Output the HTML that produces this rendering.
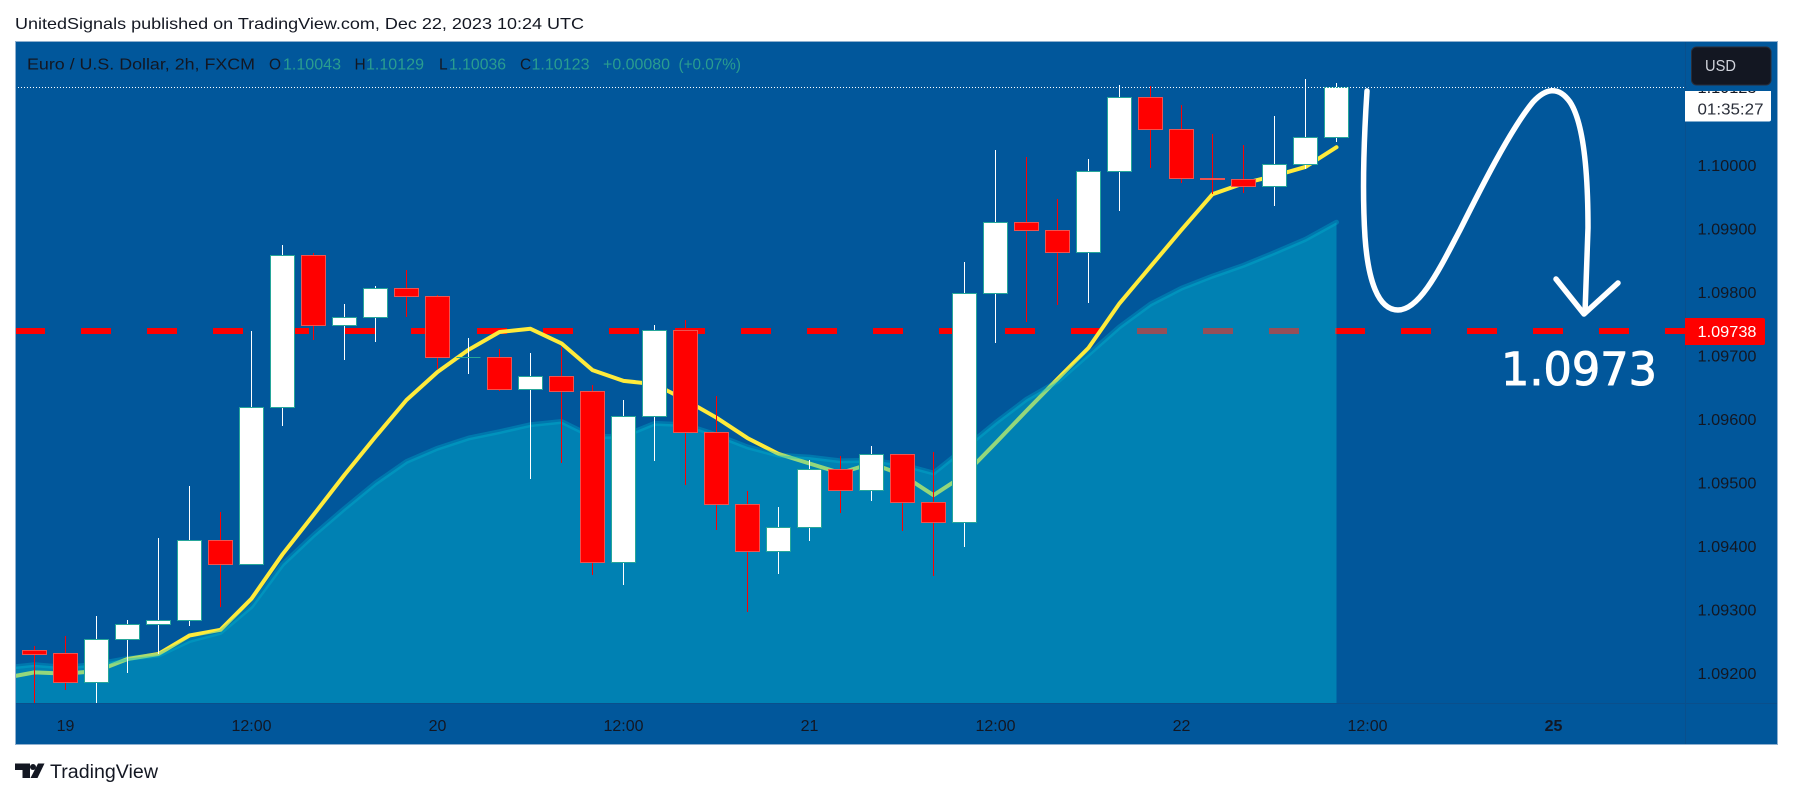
<!DOCTYPE html>
<html lang="en">
<head>
<meta charset="utf-8">
<title>EUR/USD 2h chart</title>
<style>
html,body{margin:0;padding:0;background:#fff;width:1793px;height:798px;overflow:hidden}
svg{display:block;font-family:"Liberation Sans",sans-serif}
</style>
</head>
<body>
<svg id="chart" xmlns="http://www.w3.org/2000/svg" width="1793" height="798" viewBox="0 0 1793 798">
  <defs>
    <clipPath id="plot-clip"><rect x="16" y="42" width="1669" height="661"/></clipPath>
    <clipPath id="last-label-clip"><rect x="1685" y="91" width="86" height="31"/></clipPath>
  </defs>
  <text x="15" y="29" font-size="16" fill="#131722" textLength="569" lengthAdjust="spacingAndGlyphs">UnitedSignals published on TradingView.com, Dec 22, 2023 10:24 UTC</text>
  <rect x="15.5" y="41.5" width="1762" height="703" fill="#01579b" stroke="#8fb0cf" stroke-width="1"/>
  <g id="plot" clip-path="url(#plot-clip)">
    <g id="target-layer"></g>
    <g id="fast-layer"></g>
    <g id="area-layer"></g>
    <g id="candle-layer"></g>
    <g id="last-layer"></g>
  </g>
  <line x1="1685.5" y1="42" x2="1685.5" y2="744" stroke="#0a4f8c" stroke-width="1"/>
  <line x1="16" y1="703.5" x2="1777" y2="703.5" stroke="#0a4f8c" stroke-width="1"/>
  <g id="price-axis"></g>
  <g id="time-axis"></g>

  <g font-size="15.5">
    <text x="27" y="69.5" fill="#131722" textLength="228" lengthAdjust="spacingAndGlyphs">Euro / U.S. Dollar, 2h, FXCM</text>
    <text x="269" y="69.5" fill="#131722">O</text>
    <text x="283" y="69.5" fill="#2a9d8f" textLength="58" lengthAdjust="spacingAndGlyphs">1.10043</text>
    <text x="354.5" y="69.5" fill="#131722">H</text>
    <text x="366" y="69.5" fill="#2a9d8f" textLength="58" lengthAdjust="spacingAndGlyphs">1.10129</text>
    <text x="439" y="69.5" fill="#131722">L</text>
    <text x="449" y="69.5" fill="#2a9d8f" textLength="57" lengthAdjust="spacingAndGlyphs">1.10036</text>
    <text x="520" y="69.5" fill="#131722">C</text>
    <text x="531.5" y="69.5" fill="#2a9d8f" textLength="58" lengthAdjust="spacingAndGlyphs">1.10123</text>
    <text x="603" y="69.5" fill="#2a9d8f" textLength="67" lengthAdjust="spacingAndGlyphs">+0.00080</text>
    <text x="678.5" y="69.5" fill="#2a9d8f" textLength="62.5" lengthAdjust="spacingAndGlyphs">(+0.07%)</text>
  </g>

  <g>
    <rect x="1691.5" y="47" width="79.5" height="38" rx="5" fill="#131722" stroke="#2a2e39"/>
    <text x="1705" y="71" font-size="16" fill="#d1d4dc" textLength="31" lengthAdjust="spacingAndGlyphs">USD</text>
  </g>

  <g>
    <path d="M1685 91H1771V119.5a2 2 0 0 1-2 2H1685Z" fill="#fff"/>
    <text clip-path="url(#last-label-clip)" x="1697.5" y="93" font-size="16" fill="#131722" textLength="59" lengthAdjust="spacingAndGlyphs">1.10123</text>
    <text x="1697.5" y="114.5" font-size="16" fill="#2a2e39" textLength="66" lengthAdjust="spacingAndGlyphs">01:35:27</text>
  </g>

  <g>
    <path d="M1685 318H1763a2 2 0 0 1 2 2V343a2 2 0 0 1-2 2H1685Z" fill="#ff0000"/>
    <text x="1697.5" y="337" font-size="16" fill="#fff" textLength="59" lengthAdjust="spacingAndGlyphs">1.09738</text>
  </g>

  <g fill="none" stroke="#fff" stroke-width="5.5" stroke-linecap="round" stroke-linejoin="round">
    <path d="M1367 91C1364 137 1362 190 1365 237C1368 280 1378 310 1398 310C1420 310 1440 268 1460 230C1480 190 1510 130 1533 102C1545 89 1558 85 1570 102C1585 125 1588 180 1588 228L1585 313"/>
    <path d="M1556 279L1584 314L1618 283"/>
  </g>
  <text x="1501" y="385" font-size="45" fill="#fff" stroke="#fff" stroke-width="1" style="font-family:'DejaVu Sans',sans-serif" textLength="156" lengthAdjust="spacingAndGlyphs">1.0973</text>

  <g>
    <path d="M15 763.5H30V778H22.5V770H15ZM38 763.5H44.5L37.5 778H30.5Z" fill="#131722"/>
    <circle cx="33" cy="767" r="3" fill="#131722"/>
    <text x="50" y="778" font-size="19" fill="#131722" textLength="108" lengthAdjust="spacingAndGlyphs">TradingView</text>
  </g>
</svg>
<script>
const opens = [1.09235,1.09231,1.09185,1.09253,1.09276,1.09283,1.09409,1.09371,1.09618,1.09858,1.09748,1.09760,1.09806,1.09793,1.09697,1.09697,1.09647,1.09667,1.09644,1.09374,1.09605,1.09739,1.09579,1.09466,1.09392,1.09430,1.09521,1.09487,1.09544,1.09469,1.09437,1.09798,1.09910,1.09897,1.09862,1.09990,1.10107,1.10056,1.09979,1.09977,1.09967,1.10001,1.10043];
const highs = [1.09243,1.09258,1.09290,1.09283,1.09413,1.09494,1.09454,1.09739,1.09874,1.09861,1.09781,1.09809,1.09835,1.09795,1.09728,1.09710,1.09704,1.09714,1.09654,1.09630,1.09748,1.09756,1.09636,1.09487,1.09461,1.09535,1.09542,1.09558,1.09544,1.09548,1.09847,1.10024,1.10012,1.09946,1.10009,1.10126,1.10124,1.10094,1.10049,1.10031,1.10077,1.10135,1.10129];
const lows = [1.09148,1.09174,1.09142,1.09200,1.09230,1.09274,1.09304,1.09371,1.09589,1.09724,1.09693,1.09722,1.09761,1.09679,1.09671,1.09644,1.09506,1.09530,1.09354,1.09339,1.09534,1.09496,1.09425,1.09296,1.09356,1.09408,1.09452,1.09471,1.09424,1.09352,1.09399,1.09720,1.09753,1.09780,1.09783,1.09928,1.09996,1.09972,1.09954,1.09956,1.09935,1.09993,1.10036];
const closes = [1.09230,1.09185,1.09253,1.09277,1.09283,1.09409,1.09371,1.09618,1.09858,1.09748,1.09760,1.09806,1.09793,1.09697,1.09697,1.09647,1.09667,1.09644,1.09374,1.09605,1.09739,1.09579,1.09466,1.09392,1.09430,1.09521,1.09487,1.09544,1.09469,1.09437,1.09798,1.09910,1.09897,1.09862,1.09990,1.10107,1.10056,1.09979,1.09978,1.09967,1.10001,1.10043,1.10123];
const fastAverage = [1.09192,1.09201,1.09199,1.09203,1.09222,1.09230,1.09259,1.09268,1.09317,1.09387,1.09449,1.09512,1.09572,1.09630,1.09674,1.09709,1.09737,1.09742,1.09719,1.09677,1.09660,1.09655,1.09630,1.09602,1.09570,1.09545,1.09530,1.09515,1.09530,1.09512,1.09480,1.09512,1.09562,1.09613,1.09663,1.09712,1.09782,1.09840,1.09898,1.09954,1.09971,1.09983,1.09997,1.10028];
const slowAverage = [1.09208,1.09213,1.09209,1.09214,1.09223,1.09228,1.09251,1.09264,1.09305,1.09371,1.09417,1.09459,1.09499,1.09533,1.09554,1.09570,1.09580,1.09591,1.09596,1.09572,1.09573,1.09593,1.09591,1.09575,1.09556,1.09543,1.09540,1.09534,1.09535,1.09528,1.09515,1.09554,1.09594,1.09631,1.09659,1.09702,1.09745,1.09781,1.09806,1.09825,1.09842,1.09862,1.09883,1.09910];
const priceTicks = [1.10000,1.09900,1.09800,1.09700,1.09600,1.09500,1.09400,1.09300,1.09200];
const timeTickBars = [1,7,13,19,25,31,37,43,49];
const timeTickLabels = ["19","12:00","20","12:00","21","12:00","22","12:00","25"];
const targetPrice = 1.09738;
const lastPrice = 1.10123;

const NS = "http://www.w3.org/2000/svg";
function xScale(bar) { return 34.5 + 31 * bar; }
function yScale(price) { return 165 + (1.1 - price) * 63500; }
function make(tag, parent, attrs) {
  const el = document.createElementNS(NS, tag);
  for (const k in attrs) el.setAttribute(k, attrs[k]);
  parent.appendChild(el);
  return el;
}
const crisp = v => Math.round(v) + 0.5;

/* target dashed line */
const targetLine = make("line", document.getElementById("target-layer"), {
  x1: 15, x2: 1685, y1: Math.round(yScale(targetPrice)), y2: Math.round(yScale(targetPrice)),
  stroke: "#ff0000", "stroke-width": 6, "stroke-dasharray": "30 36"
});



/* moving averages: the first value belongs to the bar before the first visible one */
const fastPoints = fastAverage.map((v, i) => xScale(i - 1).toFixed(1) + "," + yScale(v).toFixed(1));
const fastLine = make("polyline", document.getElementById("fast-layer"), {
  points: fastPoints.join(" "), fill: "none", stroke: "#ffeb3b", "stroke-width": 4,
  "stroke-linecap": "round", "stroke-linejoin": "round"
});



const slowPoints = slowAverage.map((v, i) => xScale(i - 1).toFixed(1) + "," + yScale(v).toFixed(1));
const lastSlowX = xScale(slowAverage.length - 2);
const areaFill = make("polygon", document.getElementById("area-layer"), {
  points: slowPoints.join(" ") + " " + lastSlowX + ",703 " + xScale(-1) + ",703",
  fill: "rgba(0,188,212,0.42)"
});


const slowLine = make("polyline", document.getElementById("area-layer"), {
  points: slowPoints.join(" "), fill: "none", stroke: "rgba(0,188,212,0.32)", "stroke-width": 5,
  "stroke-linecap": "round", "stroke-linejoin": "round"
});



/* candles */
const candleLayer = document.getElementById("candle-layer");
closes.forEach((close, i) => {
  const open = opens[i];
  const up = close >= open;
  const cx = xScale(i);
  const group = make("g", candleLayer, {});
  
  
  const wick = make("line", group, {
    x1: cx, x2: cx, y1: Math.round(yScale(highs[i])), y2: Math.round(yScale(lows[i])),
    stroke: up ? "#ffffff" : "#ff0000", "stroke-width": 1
  });
  
  
  const top = crisp(yScale(Math.max(open, close)) - 0.3);
  const bottom = crisp(yScale(Math.min(open, close)) - 0.3);
  const edge = up ? "#26a69a" : "#ef5350";
  let body;
  if (bottom - top < 1) {
    body = make("line", group, { x1: cx - 12, x2: cx + 12, y1: top, y2: top, stroke: edge, "stroke-width": 1 });
  } else {
    body = make("rect", group, {
      x: cx - 12, y: top, width: 24, height: bottom - top,
      fill: up ? "#ffffff" : "#ff0000", stroke: edge, "stroke-width": 1
    });
  }
  
  
});

/* last price dotted line */
const lastLine = make("line", document.getElementById("last-layer"), {
  x1: 15, x2: 1685, y1: crisp(yScale(lastPrice)), y2: crisp(yScale(lastPrice)),
  stroke: "#ffffff", "stroke-width": 1, "stroke-dasharray": "1 2"
});



/* axes */
const priceAxis = document.getElementById("price-axis");
priceTicks.forEach(p => {
  const tick = make("text", priceAxis, {
    x: 1697.5, y: yScale(p) + 6, "font-size": 16, fill: "#131722",
    textLength: 59, lengthAdjust: "spacingAndGlyphs"
  });
  tick.textContent = p.toFixed(5);
  
  
});
const timeAxis = document.getElementById("time-axis");
timeTickBars.forEach((bar, i) => {
  const tick = make("text", timeAxis, {
    x: xScale(bar), y: 731, "font-size": 16, fill: "#131722", "text-anchor": "middle",
    "font-weight": timeTickLabels[i] === "25" ? "bold" : "normal"
  });
  tick.textContent = timeTickLabels[i];
  
  
});
</script>
</body>
</html>
